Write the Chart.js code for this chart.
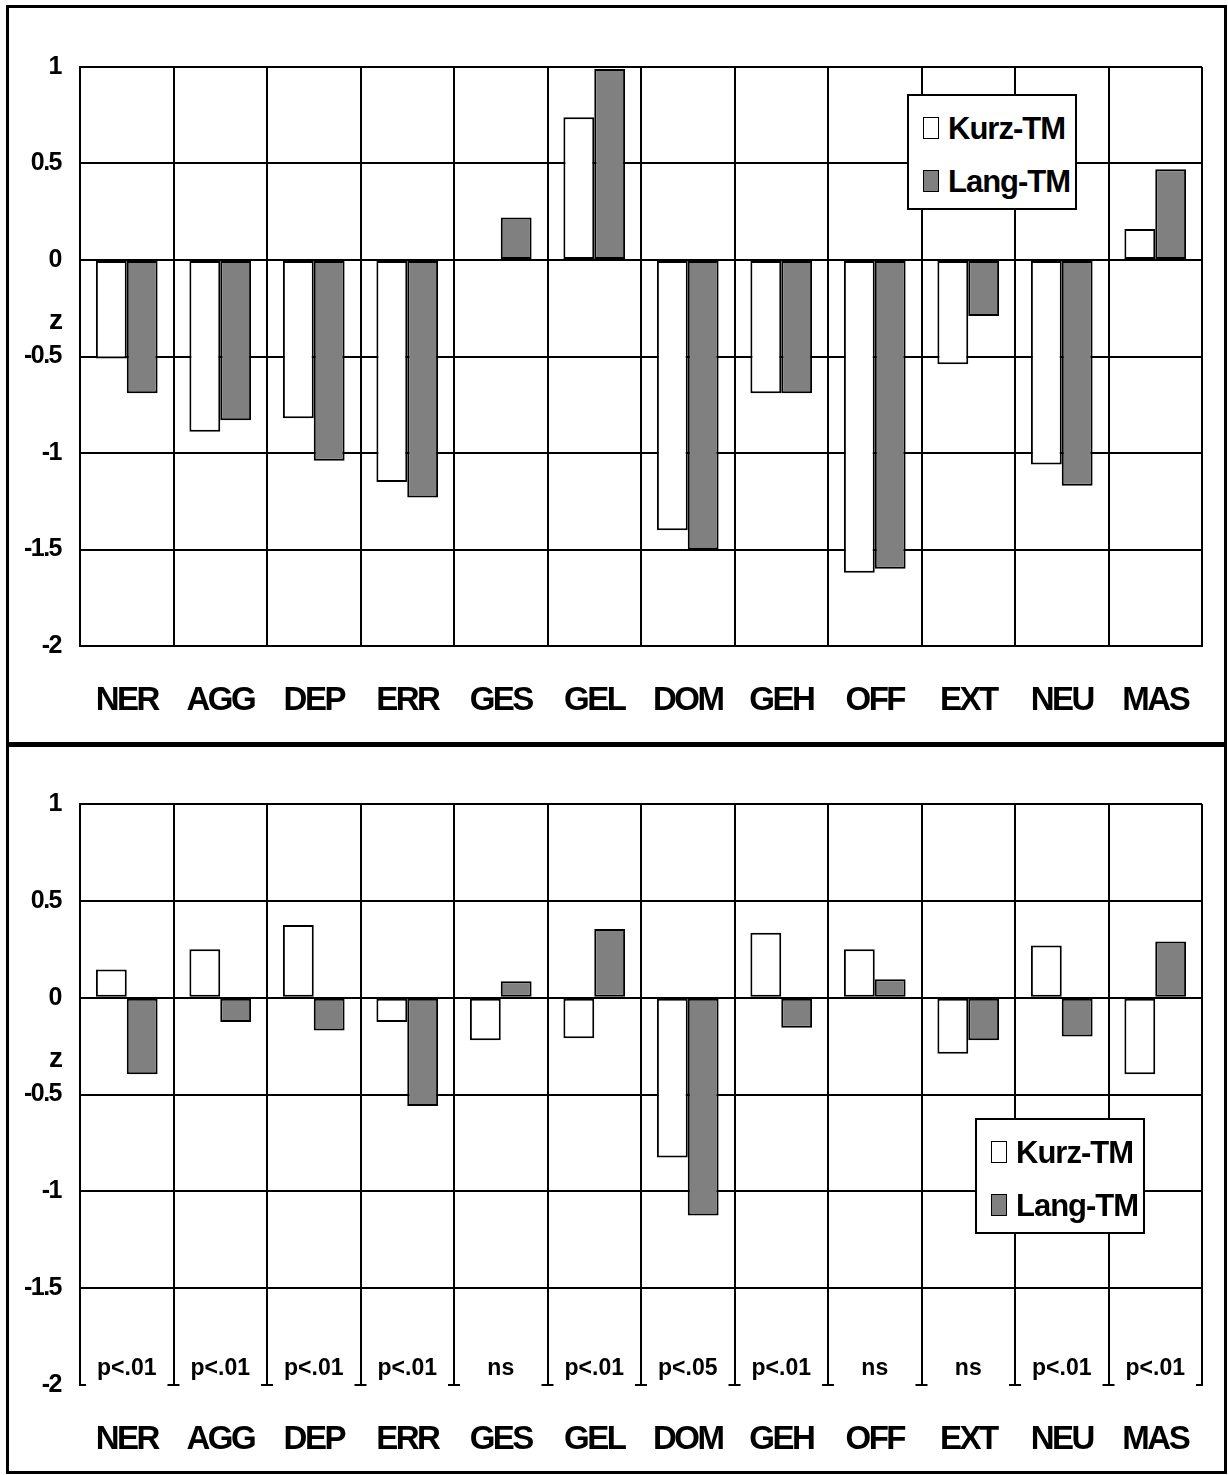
<!DOCTYPE html>
<html>
<head>
<meta charset="utf-8">
<title>Kurz-TM / Lang-TM</title>
<script src="https://cdn.jsdelivr.net/npm/chart.js@4.4.1/dist/chart.umd.min.js"></script>
<style>
  html, body { margin: 0; padding: 0; background: #fff; }
  #page { position: relative; width: 1228px; height: 1475px; overflow: hidden; }
  canvas { position: absolute; left: 0; }
  #chartTop { top: 0; }
  #chartBottom { top: 745px; }
  .frame { position: absolute; left: 6px; top: 5px; width: 1221px; height: 1469px; border: 3px solid #000; box-sizing: border-box; }
  .divider { position: absolute; left: 6px; top: 742px; width: 1221px; height: 5px; background: #000; }
  .legend { position: absolute; width: 170px; height: 116px; box-sizing: border-box; border: 2px solid #000; background: #fff; }
  .legend .swatch { position: absolute; left: 14px; width: 16px; height: 22px; box-sizing: border-box; border: 1.5px solid #000; }
  .legend .text { position: absolute; left: 39px; font: bold 31px 'Liberation Sans', Arial, sans-serif; line-height: 31px; letter-spacing: -1px; white-space: nowrap; color: #000; }
</style>
</head>
<body>
<div id="page">
  <canvas id="chartTop" width="1228" height="745"></canvas>
  <canvas id="chartBottom" width="1228" height="730"></canvas>
  <div class="frame"></div>
  <div class="divider"></div>
  <div class="legend" id="legendTop" style="left:907px; top:94px;"></div>
  <div class="legend" id="legendBottom" style="left:975px; top:1118px;"></div>
</div>
<script>
const FONT = "'Liberation Sans', Arial, sans-serif";

const categories = ['NER', 'AGG', 'DEP', 'ERR', 'GES', 'GEL', 'DOM', 'GEH', 'OFF', 'EXT', 'NEU', 'MAS'];
const seriesNames = ['Kurz-TM', 'Lang-TM'];
const seriesColors = ['#ffffff', '#808080'];

// upper panel
const kurzTop = [-0.51, -0.89, -0.82, -1.15, 0, 0.74, -1.40, -0.69, -1.62, -0.54, -1.06, 0.16];
const langTop = [-0.69, -0.83, -1.04, -1.23, 0.22, 0.99, -1.50, -0.69, -1.60, -0.29, -1.17, 0.47];

// lower panel
const kurzBottom = [0.145, 0.25, 0.375, -0.125, -0.22, -0.21, -0.825, 0.335, 0.25, -0.29, 0.27, -0.395];
const langBottom = [-0.395, -0.125, -0.17, -0.56, 0.085, 0.355, -1.125, -0.155, 0.095, -0.22, -0.20, 0.29];
const pLabels = ['p<.01', 'p<.01', 'p<.01', 'p<.01', 'ns', 'p<.01', 'p<.05', 'p<.01', 'ns', 'ns', 'p<.01', 'p<.01'];

const yTicks = [-2, -1.5, -1, -0.5, 0, 0.5, 1];
const yTickLabels = ['-2', '-1.5', '-1', '-0.5', '0', '0.5', '1'];
const axisTitle = 'z';

// Chart.js has no letter-spacing option, so wrap each scale's label drawing
const tightText = {
    id: 'tightText',
    afterUpdate(chart) {
        const spacing = { x: '-2.5px', y: '-1.5px' };
        for (const id of Object.keys(spacing)) {
            const scale = chart.scales[id];
            if (!scale || scale.__tight) continue;
            const draw = scale.drawLabels.bind(scale);
            scale.drawLabels = (area) => {
                chart.ctx.save();
                chart.ctx.letterSpacing = spacing[id];
                draw(area);
                chart.ctx.restore();
            };
            scale.__tight = true;
        }
    },
};

const extras = {
    id: 'extras',
    afterDatasetsDraw(chart, args, opts) {
        const { ctx, chartArea } = chart;
        const x = chart.scales.x;
        const y = chart.scales.y;
        ctx.save();
        ctx.letterSpacing = '0px';
        ctx.fillStyle = '#000';
        ctx.font = `bold 28px ${FONT}`;
        ctx.textAlign = 'right';
        ctx.textBaseline = 'middle';
        ctx.fillText(axisTitle, chartArea.left - 17, y.getPixelForValue(-0.32));

        if (opts.notes) {
            const base = y.getPixelForValue(y.min);
            const half = (x.getPixelForValue(1) - x.getPixelForValue(0)) / 2;
            ctx.font = `bold 23px ${FONT}`;
            ctx.textAlign = 'center';
            ctx.textBaseline = 'alphabetic';
            opts.notes.forEach((note, i) => {
                const cx = x.getPixelForValue(i);
                ctx.fillStyle = '#fff';
                ctx.fillRect(cx - half + 6, base - 40, 2 * half - 12, 46);
                ctx.fillStyle = '#000';
                ctx.fillText(note, cx, base - 10);
            });
        }
        ctx.restore();
    },
};

function renderChart(canvas, kurz, lang, layout) {
    return new Chart(canvas, {
        type: 'bar',
        data: {
            labels: categories,
            datasets: [kurz, lang].map((values, i) => ({
                label: seriesNames[i],
                data: values,
                backgroundColor: seriesColors[i],
                borderColor: '#000',
                borderWidth: 2,
                borderSkipped: false,
                categoryPercentage: 0.66,
                barPercentage: 1,
            })),
        },
        plugins: [tightText, extras],
        options: {
            responsive: false,
            animation: false,
            devicePixelRatio: 1,
            events: [],
            layout: { padding: { top: layout.top, right: 26, bottom: 0, left: 0 } },
            plugins: {
                legend: { display: false },
                tooltip: { enabled: false },
                extras: { notes: layout.notes },
            },
            scales: {
                x: {
                    offset: true,
                    grid: { color: '#000', lineWidth: 2, drawTicks: false, offset: true },
                    border: { color: '#000', width: 2 },
                    ticks: {
                        color: '#000',
                        font: { family: FONT, weight: 'bold', size: 33 },
                        padding: 35,
                        maxRotation: 0,
                        autoSkip: false,
                    },
                    afterFit: (scale) => { scale.height = layout.axisHeight; },
                },
                y: {
                    min: -2,
                    max: 1,
                    afterBuildTicks: (scale) => { scale.ticks = yTicks.map((value) => ({ value })); },
                    grid: { color: '#000', lineWidth: 2, drawTicks: false },
                    border: { color: '#000', width: 2 },
                    ticks: {
                        color: '#000',
                        font: { family: FONT, weight: 'bold', size: 25 },
                        padding: 19,
                        callback: (value) => yTickLabels[yTicks.indexOf(value)],
                    },
                    afterFit: (scale) => { scale.width = 80; },
                },
            },
        },
    });
}

function renderLegend(box) {
    const rows = [
        { swatchTop: 21, textTop: 17 },
        { swatchTop: 74, textTop: 69.5 },
    ];
    rows.forEach((row, i) => {
        const swatch = document.createElement('div');
        swatch.className = 'swatch';
        swatch.style.top = row.swatchTop + 'px';
        swatch.style.background = seriesColors[i];
        const text = document.createElement('div');
        text.className = 'text';
        text.style.top = row.textTop + 'px';
        text.textContent = seriesNames[i];
        box.append(swatch, text);
    });
}

renderChart(document.getElementById('chartTop'), kurzTop, langTop, { top: 67, axisHeight: 99 });
renderChart(document.getElementById('chartBottom'), kurzBottom, langBottom, { top: 59, axisHeight: 90, notes: pLabels });
renderLegend(document.getElementById('legendTop'));
renderLegend(document.getElementById('legendBottom'));
</script>
</body>
</html>
